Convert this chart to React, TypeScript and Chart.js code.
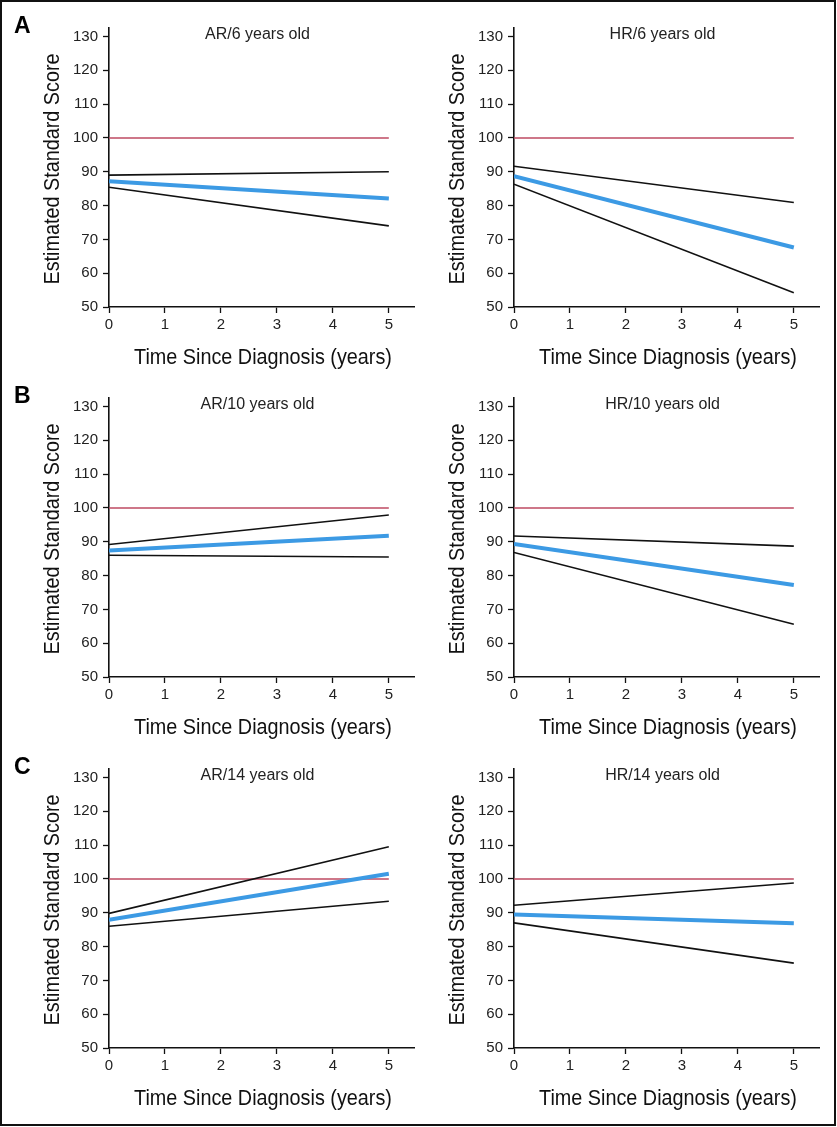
import React, { useEffect, useRef } from 'react';
import { Chart, registerables } from 'chart.js';

Chart.register(...registerables);

// ---- data ----
const years = [0, 5];
const norm = [100, 100];
const yTicks = [50, 60, 70, 80, 90, 100, 110, 120, 130];
const xTicks = [0, 1, 2, 3, 4, 5];

const ar6Upper = [89.0, 90.0];
const ar6Mean = [87.2, 82.1];
const ar6Lower = [85.4, 74.0];

const hr6Upper = [91.6, 80.9];
const hr6Mean = [88.7, 67.6];
const hr6Lower = [86.3, 54.2];

const ar10Upper = [89.2, 97.9];
const ar10Mean = [87.4, 91.8];
const ar10Lower = [86.0, 85.5];

const hr10Upper = [91.7, 88.7];
const hr10Mean = [89.3, 77.2];
const hr10Lower = [86.8, 65.6];

const ar14Upper = [89.8, 109.5];
const ar14Mean = [87.9, 101.5];
const ar14Lower = [86.0, 93.4];

const hr14Upper = [92.2, 98.8];
const hr14Mean = [89.5, 86.9];
const hr14Lower = [87.0, 75.1];

const panelTitles = [
  'AR/6 years old', 'HR/6 years old',
  'AR/10 years old', 'HR/10 years old',
  'AR/14 years old', 'HR/14 years old',
];
const panelLetters = ['A', 'B', 'C'];
const xTitle = 'Time Since Diagnosis (years)';
const yTitle = 'Estimated Standard Score';

const panelSeries = [
  [ar6Upper, ar6Mean, ar6Lower],
  [hr6Upper, hr6Mean, hr6Lower],
  [ar10Upper, ar10Mean, ar10Lower],
  [hr10Upper, hr10Mean, hr10Lower],
  [ar14Upper, ar14Mean, ar14Lower],
  [hr14Upper, hr14Mean, hr14Lower],
];

// ---- styles ----
const RED = '#be4a62';
const BLUE = '#3c9ae4';
const BLACK = '#111111';
const FONT = "'Liberation Sans', Arial, Helvetica, sans-serif";

const CW = 404;
const CH = 370;
const ROW_TOPS = [0, 370, 741];
const COL_LEFTS = [13, 418];
const NARROW_SCALE = 0.9;

const pts = (vals: number[]) => years.map((x, i) => ({ x, y: vals[i] }));

// draws the panel subtitle and the (condensed) axis titles as text
const textPlugin = {
  id: 'panelText',
  afterDatasetsDraw(chart: any, _args: any, opts: any) {
    const { ctx, chartArea } = chart;
    const midX = (chartArea.left + chartArea.right) / 2;
    const midY = (chartArea.top + chartArea.bottom) / 2;
    ctx.save();
    ctx.font = `16px ${FONT}`;
    ctx.fillStyle = '#222';
    ctx.textAlign = 'center';
    ctx.textBaseline = 'alphabetic';
    ctx.fillText(opts.text, midX - 4, chartArea.top + 11);
    ctx.restore();

    // x axis title
    ctx.save();
    ctx.font = `22px ${FONT}`;
    ctx.fillStyle = '#111';
    ctx.textAlign = 'center';
    ctx.textBaseline = 'alphabetic';
    ctx.translate(midX + 1.5, chartArea.bottom + 57);
    ctx.scale(NARROW_SCALE, 1);
    ctx.fillText(opts.xTitle, 0, 0);
    ctx.restore();

    // y axis title
    ctx.save();
    ctx.font = `22px ${FONT}`;
    ctx.fillStyle = '#111';
    ctx.textAlign = 'center';
    ctx.textBaseline = 'alphabetic';
    ctx.translate(chartArea.left - 50, midY + 1.5);
    ctx.rotate(-Math.PI / 2);
    ctx.scale(NARROW_SCALE, 1);
    ctx.fillText(opts.yTitle, 0, 0);
    ctx.restore();
  },
};

function Panel({ idx }: { idx: number }) {
  const ref = useRef<HTMLCanvasElement>(null);
  useEffect(() => {
    const [upper, mean, lower] = panelSeries[idx];
    const chart = new Chart(ref.current as HTMLCanvasElement, {
      type: 'line',
      data: {
        datasets: [
          { data: pts(mean), borderColor: BLUE, borderWidth: 4, pointRadius: 0, tension: 0 },
          { data: pts(upper), borderColor: BLACK, borderWidth: 1.6, pointRadius: 0, tension: 0 },
          { data: pts(lower), borderColor: BLACK, borderWidth: 1.6, pointRadius: 0, tension: 0 },
          { data: pts(norm), borderColor: RED, borderWidth: 1.5, pointRadius: 0, tension: 0 },
        ],
      },
      options: {
        animation: false,
        responsive: false,
        devicePixelRatio: 1,
        layout: { padding: { left: 24, right: 3, top: 28, bottom: 0 } },
        plugins: {
          legend: { display: false },
          tooltip: { enabled: false },
          panelText: { text: panelTitles[idx], xTitle, yTitle },
        } as any,
        scales: {
          x: {
            type: 'linear',
            min: 0,
            max: 5.45,
            afterBuildTicks: (s: any) => { s.ticks = xTicks.map((v) => ({ value: v })); },
            afterFit: (s: any) => { s.height = 63; },
            ticks: { stepSize: 1, includeBounds: false, color: '#222', font: { family: FONT, size: 15 }, padding: 3 },
            grid: { display: true, drawOnChartArea: false, drawTicks: true, tickLength: 6, tickWidth: 1.3, tickColor: BLACK },
            border: { display: true, color: BLACK, width: 1.6 },
            title: { display: false },
          },
          y: {
            type: 'linear',
            min: 50,
            max: 132.5,
            afterBuildTicks: (s: any) => { s.ticks = yTicks.map((v) => ({ value: v })); },
            afterFit: (s: any) => { s.width = 72; },
            ticks: { stepSize: 10, includeBounds: false, color: '#222', font: { family: FONT, size: 15 }, padding: 5 },
            grid: { display: true, drawOnChartArea: false, drawTicks: true, tickLength: 6, tickWidth: 1.3, tickColor: BLACK },
            border: { display: true, color: BLACK, width: 1.6 },
            title: { display: false },
          },
        },
      } as any,
      plugins: [textPlugin],
    });
    return () => chart.destroy();
  }, [idx]);
  const row = Math.floor(idx / 2);
  const col = idx % 2;
  return (
    <canvas
      ref={ref}
      width={CW}
      height={CH}
      style={{ position: 'absolute', left: COL_LEFTS[col], top: ROW_TOPS[row], width: CW, height: CH }}
    />
  );
}

export default function App() {
  useEffect(() => {
    document.body.style.margin = '0';
  }, []);
  return (
    <div
      style={{
        position: 'absolute',
        left: 0,
        top: 0,
        width: 836,
        height: 1126,
        boxSizing: 'border-box',
        border: '2px solid #111',
        background: '#fff',
        overflow: 'hidden',
      }}
    >
      <div style={{ position: 'absolute', left: -2, top: -2, width: 836, height: 1126 }}>
        {panelSeries.map((_, i) => (
          <Panel key={i} idx={i} />
        ))}
        {panelLetters.map((l, r) => (
          <div
            key={l}
            style={{
              position: 'absolute',
              left: 14,
              top: 14 + ROW_TOPS[r],
              fontFamily: FONT,
              fontWeight: 'bold',
              fontSize: 23,
              lineHeight: '23px',
              color: '#000',
            }}
          >
            {l}
          </div>
        ))}
      </div>
    </div>
  );
}
